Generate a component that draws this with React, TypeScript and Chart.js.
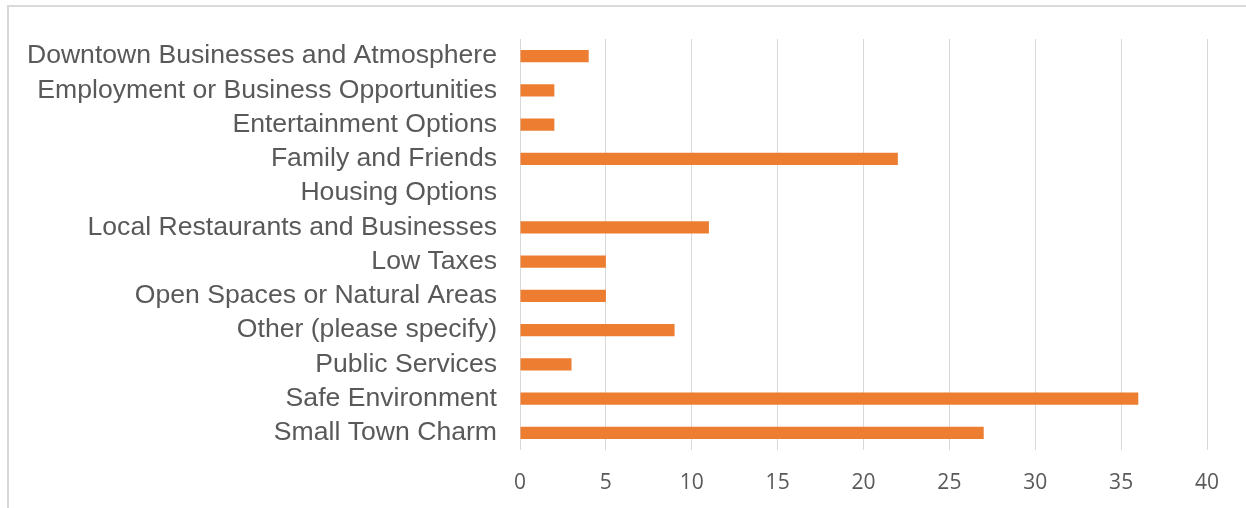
import React, { useEffect, useRef } from "react";
import { Chart, registerables } from "chart.js";

Chart.register(...registerables);

const categories = [
  "Downtown Businesses and Atmosphere",
  "Employment or Business Opportunities",
  "Entertainment Options",
  "Family and Friends",
  "Housing Options",
  "Local Restaurants and Businesses",
  "Low Taxes",
  "Open Spaces or Natural Areas",
  "Other (please specify)",
  "Public Services",
  "Safe Environment",
  "Small Town Charm",
];

const responses = [4, 2, 2, 22, 0, 11, 5, 5, 9, 3, 36, 27];

const xMin = 0;
const xMax = 40;
const xStep = 5;

export default function App() {
  const canvasRef = useRef<HTMLCanvasElement | null>(null);

  useEffect(() => {
    const canvas = canvasRef.current;
    if (!canvas) return;
    const chart = new Chart(canvas, {
      type: "bar",
      data: {
        labels: categories,
        datasets: [
          {
            data: responses,
            backgroundColor: "#ED7D31",
            borderWidth: 0,
            barPercentage: 0.36,
            categoryPercentage: 1,
          },
        ],
      },
      options: {
        indexAxis: "y",
        animation: false,
        responsive: false,
        maintainAspectRatio: false,
        layout: { padding: { left: 0, right: 39, top: 36, bottom: 0 } },
        plugins: {
          legend: { display: false },
          tooltip: { enabled: false },
          title: { display: false },
        },
        scales: {
          x: {
            min: xMin,
            max: xMax,
            ticks: {
              stepSize: xStep,
              color: "#595959",
              font: { family: "Open Sans", size: 21 },
              padding: 20,
            },
            grid: {
              color: "#d9d9d9",
              lineWidth: 1,
              drawTicks: false,
            },
            border: { display: false },
            afterFit: (scale: any) => {
              scale.height = 58;
            },
          },
          y: {
            ticks: {
              color: "#595959",
              font: { family: "Liberation Sans", size: 26.6 },
              padding: 23,
              autoSkip: false,
            },
            grid: { display: false, drawTicks: false },
            border: { display: false },
            afterFit: (scale: any) => {
              scale.width = 520;
            },
          },
        },
      },
    });
    return () => chart.destroy();
  }, []);

  return (
    <div
      style={{
        position: "fixed",
        left: 0,
        top: 0,
        width: 1246,
        height: 508,
        overflow: "hidden",
        background: "#ffffff",
      }}
    >
      <div
        style={{
          position: "absolute",
          left: 7,
          top: 5,
          width: 1400,
          height: 700,
          border: "2px solid #d9d9d9",
          boxSizing: "border-box",
        }}
      />
      <canvas
        ref={canvasRef}
        width={1246}
        height={508}
        style={{ position: "absolute", left: 0, top: 0, width: 1246, height: 508 }}
      />
    </div>
  );
}
